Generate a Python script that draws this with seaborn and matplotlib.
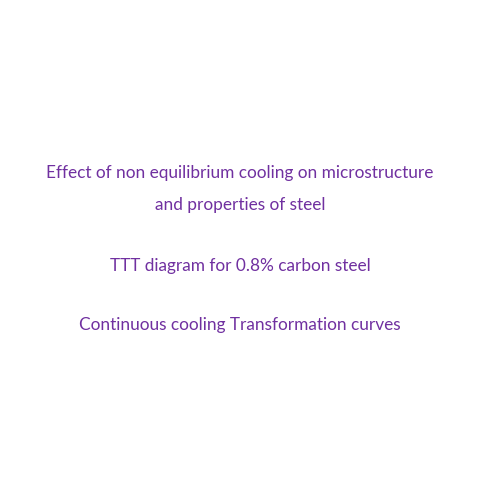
import matplotlib
matplotlib.use("Agg")
import matplotlib.pyplot as plt
import seaborn as sns

lines = ["Effect of non equilibrium cooling on microstructure",
         "and properties of steel",
         "TTT diagram for 0.8% carbon steel",
         "Continuous cooling Transformation curves"]
ypos = [173, 205, 266, 325]

sns.set_theme(style="white")
plt.rcParams['font.family'] = ['Lato', 'DejaVu Sans']
fig = plt.figure(figsize=(4.8, 4.8), dpi=100)
ax = fig.add_axes([0, 0, 1, 1])
ax.set_xlim(0, 480)
ax.set_ylim(480, 0)
ax.axis('off')
for t, y in zip(lines, ypos):
    ax.text(240, y, t, ha='center', va='center', fontsize=12.4, color='#7030A0')
fig.savefig("out.png", dpi=100, facecolor='white')
